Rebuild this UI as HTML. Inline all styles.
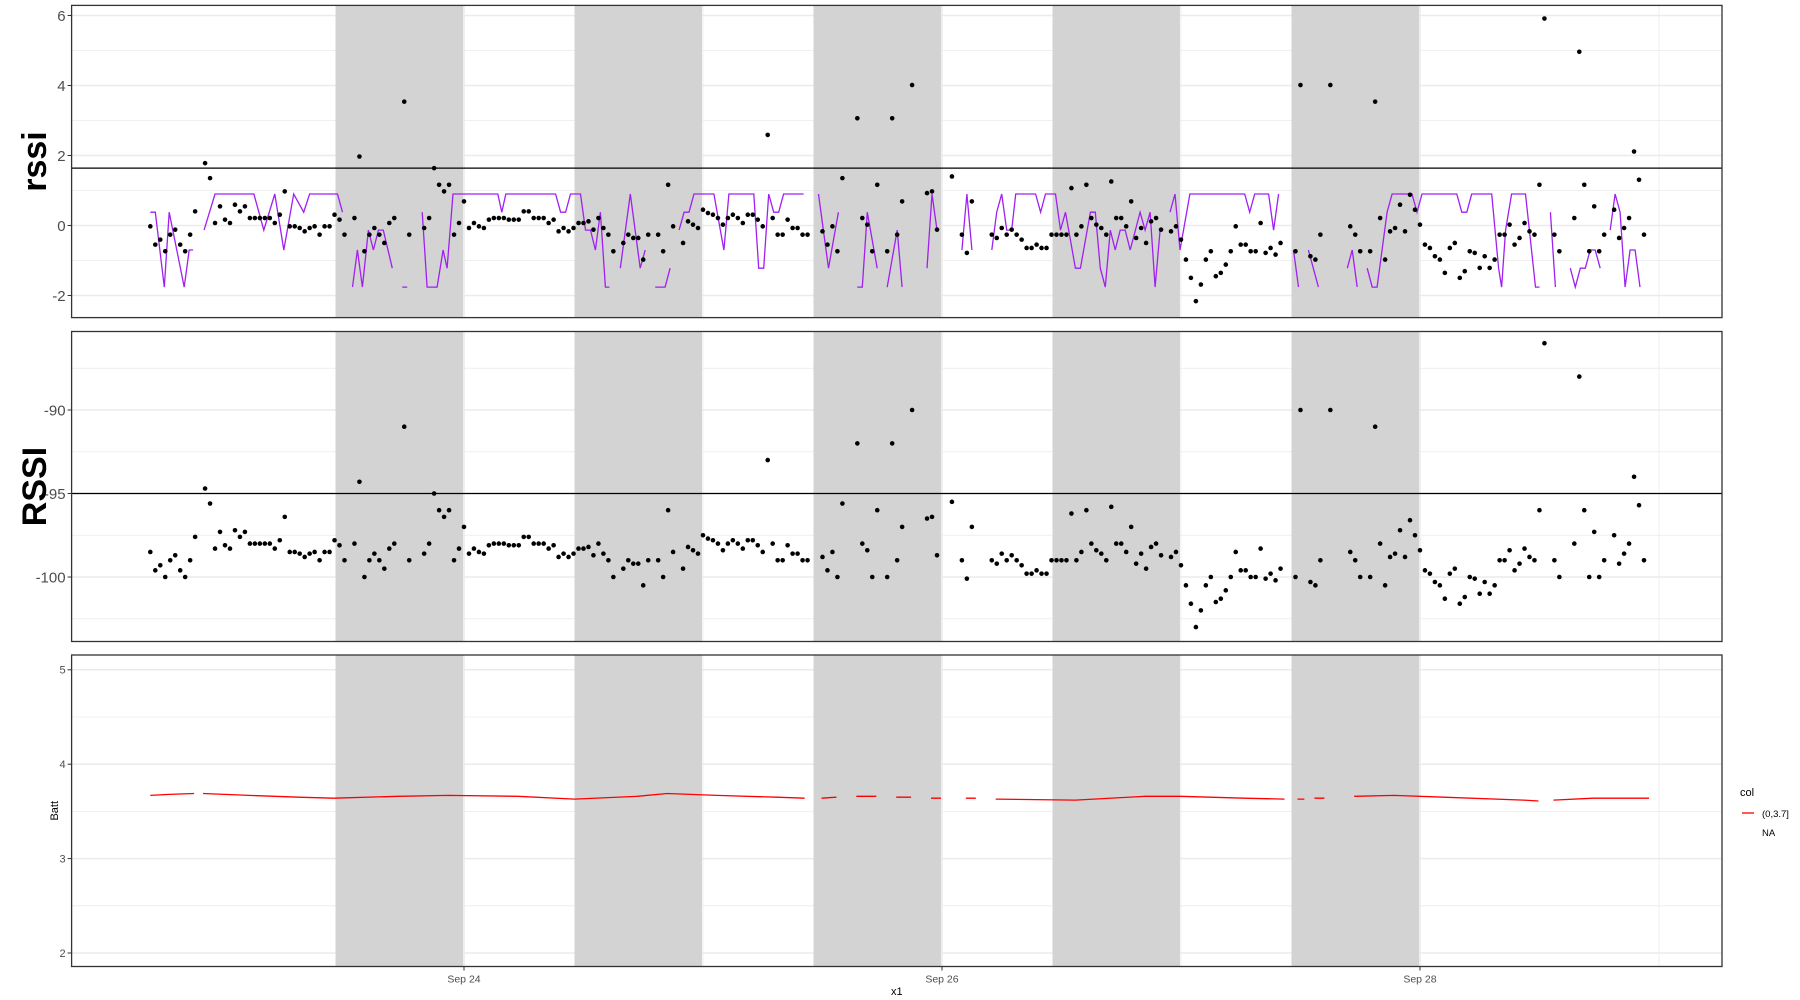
<!DOCTYPE html>
<html><head><meta charset="utf-8">
<style>
html,body{margin:0;padding:0;background:#fff;}
svg{display:block;font-family:"Liberation Sans",Arial,sans-serif;}
</style></head>
<body>
<svg id="chart" width="1800" height="1000" viewBox="0 0 1800 1000" xmlns="http://www.w3.org/2000/svg">
<rect x="0" y="0" width="1800" height="1000" fill="#fff"/>
</svg>
<script>
// ---- data (hours since Sep 23 00:00) ----
const rssiTimes = [-7.5,-7,-6.5,-6,-5.5,-5,-4.5,-4,-3.5,-3,-2,-1.5,-1,-0.5,0,0.5,1,1.5,2,2.5,3,3.5,4,4.5,5,5.5,6,6.5,7,7.5,8,8.5,9,9.5,10,10.5,11,11.5,12,13,13.5,14,14.5,15,15.5,16,16.5,17,18,18.5,20,20.5,21,21.5,22,22.5,23,23.5,24,24.5,25,25.5,26,26.5,27,27.5,28,28.5,29,29.5,30,30.5,31,31.5,32,32.5,33,33.5,34,34.5,35,35.5,36,36.5,37,37.5,38,38.5,39,40,40.5,41,41.5,42,42.5,43.5,44,44.5,45,46,46.5,47,47.5,48,48.5,49,49.5,50,50.5,51,51.5,52,52.5,53,53.5,54,54.5,55,55.5,56,56.5,57,57.5,58,58.5,60,60.5,61,61.5,62,63.5,64,64.5,65,65.5,66.5,67,67.5,68,69,70.5,71,71.5,73,74,74.5,75,77,77.5,78,78.5,79,79.5,80,80.5,81,81.5,82,82.5,83,83.5,84,84.5,85,85.5,86,86.5,87,87.5,88,88.5,89,89.5,90,90.5,91,91.5,92,92.5,93,93.5,94,95,95.5,96,96.5,97,97.5,98,98.5,99,99.5,100,100.5,101,101.5,102,102.5,103,103.5,104,104.5,105,105.5,106,107.5,108,109,109.5,110,111,113,113.5,114,115,115.5,116,116.5,117,117.5,118,118.5,119,119.5,120,120.5,121,121.5,122,122.5,123,123.5,124,124.5,125,125.5,126,126.5,127,127.5,128,128.5,129,129.5,130,130.5,131,131.5,132,132.5,133.5,134,135.5,136,136.5,137,137.5,138,138.5,139.5,140,140.5,141,141.5,142,142.5];
const rssiValues = [-98.5,-99.6,-99.3,-100,-99,-98.7,-99.6,-100,-99,-97.6,-94.7,-95.6,-98.3,-97.3,-98.1,-98.3,-97.2,-97.6,-97.3,-98,-98,-98,-98,-98,-98.3,-97.8,-96.4,-98.5,-98.5,-98.6,-98.8,-98.6,-98.5,-99,-98.5,-98.5,-97.8,-98.1,-99,-98,-94.3,-100,-99,-98.6,-99,-99.5,-98.3,-98,-91,-99,-98.6,-98,-95,-96,-96.4,-96,-99,-98.3,-97,-98.6,-98.3,-98.5,-98.6,-98.1,-98,-98,-98,-98.1,-98.1,-98.1,-97.6,-97.6,-98,-98,-98,-98.3,-98.1,-98.8,-98.6,-98.8,-98.6,-98.3,-98.3,-98.2,-98.7,-98,-98.6,-99,-100,-99.5,-99,-99.2,-99.2,-100.5,-99,-99,-100,-96,-98.5,-99.5,-98.2,-98.4,-98.6,-97.5,-97.7,-97.8,-98,-98.4,-98,-97.8,-98,-98.3,-97.8,-97.8,-98.1,-98.5,-93,-98,-99,-99,-98.1,-98.6,-98.6,-99,-99,-98.8,-99.6,-98.5,-100,-95.6,-92,-98,-98.4,-100,-96,-100,-92,-99,-97,-90,-96.5,-96.4,-98.7,-95.5,-99,-100.1,-97,-99,-99.2,-98.6,-99,-98.7,-99,-99.3,-99.8,-99.8,-99.6,-99.8,-99.8,-99,-99,-99,-99,-96.2,-99,-98.5,-96,-98,-98.4,-98.6,-99,-95.8,-98,-98,-98.5,-97,-99.2,-98.6,-99.5,-98.2,-98,-98.7,-98.8,-98.5,-99.3,-100.5,-101.6,-103,-102,-100.5,-100,-101.5,-101.3,-100.8,-100,-98.5,-99.6,-99.6,-100,-100,-98.3,-100.1,-99.8,-100.2,-99.5,-100,-90,-100.3,-100.5,-99,-90,-98.5,-99,-100,-100,-91,-98,-100.5,-98.8,-98.6,-97.2,-98.8,-96.6,-97.5,-98.4,-99.6,-99.8,-100.3,-100.5,-101.3,-99.8,-99.5,-101.6,-101.2,-100,-100.1,-101,-100.3,-101,-100.5,-99,-99,-98.4,-99.6,-99.2,-98.3,-98.8,-99,-96,-86,-99,-100,-98,-88,-96,-100,-97.3,-100,-99,-97.5,-99.2,-98.6,-98,-94,-95.7,-99];
const purpleTimes = [-7.5,-7,-6.1,-5.6,-4.1,-3.6,-3.2,null,-2.1,-1,2.9,3.9,5,5.9,6.9,7.9,8.5,11.3,11.8,null,12.8,13.3,13.8,14.4,14.9,15.4,15.9,16.8,null,17.8,18.3,null,19.8,20.3,21.3,21.9,22.3,22.9,27.4,27.8,28.2,33.2,33.7,34.2,34.7,35.7,36.2,36.7,37.2,37.7,38.2,38.6,null,39.7,40.7,41.7,42.2,null,43.2,44.2,44.7,null,45.6,46.1,46.6,47.1,49.1,50.1,50.6,53.1,53.6,54.1,54.6,55.1,55.6,56.1,58.1,null,59.6,60.6,61.6,null,63.5,64,64.5,65.5,null,66.5,67.5,68,null,70.5,71,71.5,null,74,74.5,75,null,77,77.5,78,78.5,79,79.4,81.4,81.9,82.4,83.4,83.9,84.4,85.4,85.9,86.9,87.4,87.9,88.4,88.9,89.4,89.9,90.4,90.9,91.9,92.4,92.9,93.4,93.9,null,94.9,95.4,95.9,96.9,102.4,102.9,103.4,104.8,105.3,105.8,null,107.3,107.8,null,108.8,109.8,null,112.7,113.2,113.7,null,114.7,115.2,115.7,116.7,117.2,119.2,119.7,120.2,123.7,124.2,124.7,125.2,127.2,127.9,128.2,128.6,129.2,130.6,131.6,132,null,133.1,133.6,null,135.1,135.6,136.1,136.6,137.1,137.6,138.1,null,139.1,139.6,140.1,140.6,141.1,141.6,142.1];
const purpleValues = [0.38,0.38,-1.76,0.38,-1.76,-0.7,-0.7,null,-0.13,0.9,0.9,-0.13,0.9,-0.7,0.9,0.38,0.9,0.9,0.38,null,-1.76,-0.7,-1.76,-0.13,-0.7,-0.13,-0.13,-1.22,null,-1.76,-1.76,null,0.38,-1.76,-1.76,-0.7,-1.22,0.9,0.9,0.38,0.9,0.9,0.38,0.38,0.9,0.9,-0.13,-0.13,-0.7,0.38,-1.76,-1.76,null,-1.22,0.9,-1.22,-0.7,null,-1.76,-1.76,-1.22,null,-0.13,0.38,0.38,0.9,0.9,-0.7,0.9,0.9,-1.22,-1.22,0.9,0.38,0.38,0.9,0.9,null,0.9,-1.22,0.38,null,-1.76,-1.76,0.38,-1.22,null,-1.76,-0.13,-1.76,null,-1.22,0.9,-0.13,null,-0.7,0.9,-0.7,null,-0.7,0.38,0.9,-0.13,-0.13,0.9,0.9,0.38,0.9,0.9,-0.13,0.38,-1.22,-1.22,0.38,0.38,-1.22,-1.76,-0.13,-0.7,-0.13,-0.13,-0.7,0.38,-0.13,0.38,-1.76,-0.13,null,0.38,0.9,-0.7,0.9,0.9,0.38,0.9,0.9,-0.13,0.9,null,-0.7,-1.76,null,-0.7,-1.76,null,-1.22,-0.7,-1.76,null,-1.22,-1.76,-1.76,0.38,0.9,0.9,0.38,0.9,0.9,0.38,0.38,0.9,0.9,-1.22,-1.76,-0.13,0.9,0.9,-1.76,-1.76,null,0.38,-1.76,null,-1.22,-1.76,-1.22,-1.22,-0.7,-0.7,-1.22,null,-0.13,0.9,0.38,-1.76,-0.7,-0.7,-1.76];
const battTimes = [-7.5,-5.6,-3.1,null,-2.2,2.4,7.4,10.9,17.4,22.4,29.4,35.1,41.4,44.4,49.4,55.4,58.2,null,59.9,61.4,null,63.4,65.4,null,67.4,68.9,null,70.9,71.9,null,74.4,75.4,null,77.4,85.4,92.4,95.9,102.4,106.4,null,107.7,108.4,null,109.4,110.4,null,113.4,117.4,122.4,130.4,131.9,null,133.4,137.4,143];
const battValues = [3.67,3.68,3.69,null,3.69,3.67,3.65,3.64,3.66,3.67,3.66,3.63,3.66,3.69,3.67,3.65,3.64,null,3.64,3.65,null,3.66,3.66,null,3.65,3.65,null,3.64,3.64,null,3.64,3.64,null,3.63,3.62,3.66,3.66,3.64,3.63,null,3.63,3.63,null,3.64,3.64,null,3.66,3.67,3.65,3.62,3.61,null,3.62,3.64,3.64];
const xTickHours = [24,72,120];
const xTickLabels = ["Sep 24","Sep 26","Sep 28"];
const nightStarts = [11.1,35.1,59.1,83.1,107.1];
const nightLength = 12.8;
const rssiThreshold = -95;
const rssiMean = -98.45, rssiScale = 0.475;

// ---- layout ----
const NS = "http://www.w3.org/2000/svg";
const svg = document.getElementById('chart');
const L = 71.6, R = 1722;
const xs = h => 225.0 + 9.958 * h;
const panels = [
  {name:'rssi-panel', top:5.4, bot:317.6, y: v => 225.5 - 35 * v, major:[-2,0,2,4,6], minor:[-1,1,3,5], fs:15, title:'rssi', tsize:34},
  {name:'RSSI-panel', top:331.5, bot:641.5, y: v => 577 - (v + 100) * 16.7, major:[-100,-95,-90], minor:[-102.5,-97.5,-92.5,-87.5], fs:15, title:'RSSI', tsize:34},
  {name:'batt-panel', top:655, bot:966.5, y: v => 858.6 - (v - 3) * 94.4, major:[2,3,4,5], minor:[2.5,3.5,4.5], fs:11, title:'Batt', tsize:11}
];
function mk(tag, attrs, parent) {
  const e = document.createElementNS(NS, tag);
  for (const k in attrs) e.setAttribute(k, attrs[k]);
  (parent || svg).appendChild(e);
  return e;
}
const defs = mk('defs', {});
panels.forEach((p, i) => {
  const cp = mk('clipPath', {id: 'clip' + i}, defs);
  mk('rect', {x: L, y: p.top, width: R - L, height: p.bot - p.top}, cp);
});

panels.forEach((p, i) => {
  const g = mk('g', {});
  
  
  const inner = mk('g', {'clip-path': 'url(#clip' + i + ')'}, g);
  p.minor.forEach(v => mk('line', {x1: L, x2: R, y1: p.y(v), y2: p.y(v), stroke: '#ebebeb', 'stroke-width': 0.8}, inner));
  p.major.forEach(v => mk('line', {x1: L, x2: R, y1: p.y(v), y2: p.y(v), stroke: '#ebebeb', 'stroke-width': 1.5}, inner));
  [-24, 48, 96, 144].forEach(h => mk('line', {x1: xs(h), x2: xs(h), y1: p.top, y2: p.bot, stroke: '#ebebeb', 'stroke-width': 0.8}, inner));
  [-48, 24, 72, 120, 168].forEach(h => mk('line', {x1: xs(h), x2: xs(h), y1: p.top, y2: p.bot, stroke: '#ebebeb', 'stroke-width': 1.6}, inner));
  nightStarts.forEach(s => {
    const r = mk('rect', {x: xs(s), y: p.top, width: xs(s + nightLength) - xs(s), height: p.bot - p.top, fill: '#d3d3d3'}, inner);
    
    
  });
  const b = mk('rect', {x: L, y: p.top, width: R - L, height: p.bot - p.top, fill: 'none', stroke: '#333', 'stroke-width': 1.3}, g);
  
  
  p.major.forEach(v => {
    mk('line', {x1: L - 4, x2: L, y1: p.y(v), y2: p.y(v), stroke: '#333', 'stroke-width': 1}, g);
    const t = mk('text', {x: L - 6, y: p.y(v) + p.fs * 0.35, 'text-anchor': 'end', 'font-size': p.fs, fill: '#4d4d4d'}, g);
    t.textContent = String(v);
    
    
  });
  const cy = (p.top + p.bot) / 2;
  const tx = i === 2 ? 58 : 46;
  const tt = mk('text', {x: tx, y: cy, transform: 'rotate(-90 ' + tx + ' ' + cy + ')', 'text-anchor': 'middle', 'font-size': p.tsize, 'font-weight': i === 2 ? 'normal' : 'bold', fill: '#000'}, g);
  tt.textContent = p.title;
  
  
  p.g = inner;
});

const P3 = panels[2];
xTickHours.forEach((h, k) => {
  mk('line', {x1: xs(h), x2: xs(h), y1: P3.bot, y2: P3.bot + 4, stroke: '#333', 'stroke-width': 1});
  const t = mk('text', {x: xs(h), y: P3.bot + 16, 'text-anchor': 'middle', 'font-size': 10.5, fill: '#4d4d4d'});
  t.textContent = xTickLabels[k];
  
  
});
const xt = mk('text', {x: (L + R) / 2, y: 995, 'text-anchor': 'middle', 'font-size': 11, fill: '#000'});
xt.textContent = 'x1';



function linePath(ts, vs, yf) {
  let d = '', pen = false;
  for (let k = 0; k < ts.length; k++) {
    if (ts[k] === null || vs[k] === null) { pen = false; continue; }
    d += (pen ? 'L' : 'M') + xs(ts[k]).toFixed(1) + ' ' + yf(vs[k]).toFixed(1);
    pen = true;
  }
  return d;
}

const P1 = panels[0];
const pl = mk('path', {d: linePath(purpleTimes, purpleValues, P1.y), fill: 'none', stroke: '#A020F0', 'stroke-width': 1.3}, P1.g);


const thr1 = mk('line', {x1: L, x2: R, y1: P1.y((rssiThreshold - rssiMean) * rssiScale), y2: P1.y((rssiThreshold - rssiMean) * rssiScale), stroke: '#000', 'stroke-width': 1.3}, P1.g);


rssiTimes.forEach((h, k) => {
  const c = mk('circle', {cx: xs(h), cy: P1.y((rssiValues[k] - rssiMean) * rssiScale), r: 2.3, fill: '#000'}, P1.g);
  
  
});

const P2 = panels[1];
const thr2 = mk('line', {x1: L, x2: R, y1: P2.y(rssiThreshold), y2: P2.y(rssiThreshold), stroke: '#000', 'stroke-width': 1.3}, P2.g);


rssiTimes.forEach((h, k) => {
  const c = mk('circle', {cx: xs(h), cy: P2.y(rssiValues[k]), r: 2.3, fill: '#000'}, P2.g);
  
  
});

const bl = mk('path', {d: linePath(battTimes, battValues, P3.y), fill: 'none', stroke: '#ff0000', 'stroke-width': 1.3}, P3.g);



const lg = mk('g', {});


const lt = mk('text', {x: 1740, y: 796, 'font-size': 11, fill: '#000'}, lg);
lt.textContent = 'col';
mk('line', {x1: 1742, x2: 1754, y1: 813, y2: 813, stroke: '#ff0000', 'stroke-width': 1.3}, lg);
const l1 = mk('text', {x: 1762, y: 817, 'font-size': 9.5, fill: '#000'}, lg);
l1.textContent = '(0,3.7]';


const l2 = mk('text', {x: 1762, y: 836, 'font-size': 9.5, fill: '#000'}, lg);
l2.textContent = 'NA';


</script>
</body></html>
